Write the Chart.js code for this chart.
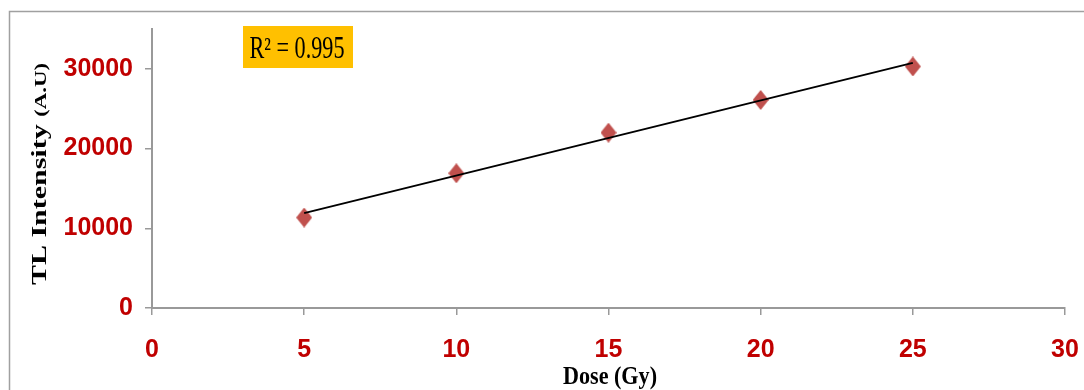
<!DOCTYPE html>
<html>
<head>
<meta charset="utf-8">
<script src="https://cdn.jsdelivr.net/npm/chart.js@4/dist/chart.umd.min.js"></script>
<style>
  body { margin: 0; background: #fff; overflow: hidden; }
  canvas { display: block; }
</style>
</head>
<body>
<canvas id="tlChart" width="1084" height="390"></canvas>
<script>
// Data
const doses = [5, 10, 15, 20, 25];
const intensities = [11350, 16900, 22000, 26100, 30300];
// linear trendline endpoints (as drawn)
const trendDoses = [5, 25];
const trendValues = [11900, 30750];
const xTicks = [0, 5, 10, 15, 20, 25, 30];
const yTicks = [0, 10000, 20000, 30000];
const rSquaredText = 'R\u00B2 = 0.995';

// tall diamond marker
const marker = document.createElement('canvas');
marker.width = 16;
marker.height = 20;
const mctx = marker.getContext('2d');
mctx.fillStyle = '#C0504D';
mctx.beginPath();
mctx.moveTo(8, 0);
mctx.lineTo(16, 10);
mctx.lineTo(8, 20);
mctx.lineTo(0, 10);
mctx.closePath();
mctx.fill();

function fitText(ctx, text, x, y, targetWidth, align) {
	const w = ctx.measureText(text).width;
	const sx = targetWidth / w;
	ctx.save();
	ctx.translate(x, y);
	ctx.scale(sx, 1);
	ctx.textAlign = align || 'center';
	ctx.fillText(text, 0, 0);
	ctx.restore();
}

const decorations = {
	id: 'decorations',
	beforeDraw(chart) {
		const ctx = chart.ctx;
		ctx.save();
		ctx.strokeStyle = '#A0A0A0';
		ctx.lineWidth = 1.5;
		ctx.strokeRect(9.5, 11.5, 1300, 600);
		ctx.restore();
	},
	afterDraw(chart) {
		const ctx = chart.ctx;
		ctx.save();

		// R² box
		ctx.fillStyle = '#FFC000';
		ctx.fillRect(243, 26, 110, 42);
		ctx.fillStyle = '#000';
		ctx.font = '31px "Liberation Serif", "Times New Roman", serif';
		ctx.textBaseline = 'alphabetic';
		fitText(ctx, rSquaredText, 297, 58, 95);

		// x title
		ctx.font = 'bold 26px "Liberation Serif", "Times New Roman", serif';
		fitText(ctx, 'Dose (Gy)', 610, 384, 94);

		// y title, two sizes
		ctx.translate(46, 285);
		ctx.rotate(-Math.PI / 2);
		const big = 'bold 21px "Liberation Serif", "Times New Roman", serif';
		const small = 'bold 16px "Liberation Serif", "Times New Roman", serif';
		ctx.font = big;
		const w1 = ctx.measureText('TL Intensity ').width;
		ctx.font = small;
		const w2 = ctx.measureText('(A.U)').width;
		const sx = 222 / (w1 + w2);
		ctx.scale(sx, 1);
		ctx.textAlign = 'left';
		ctx.font = big;
		ctx.fillText('TL Intensity ', 0, 0);
		ctx.font = small;
		ctx.fillText('(A.U)', w1, 0);

		ctx.restore();
	},
};

const tickFont = { family: '"Liberation Sans", Arial, sans-serif', size: 25, weight: 'bold' };

const tlChart = new Chart(document.getElementById('tlChart').getContext('2d'), {
	type: 'scatter',
	data: {
		datasets: [
			{
				type: 'line',
				label: 'Linear fit',
				data: trendDoses.map((d, i) => ({ x: d, y: trendValues[i] })),
				borderColor: '#000',
				borderWidth: 2,
				pointRadius: 0,
				fill: false,
				order: 0,
			},
			{
				label: 'TL Intensity',
				data: doses.map((d, i) => ({ x: d, y: intensities[i] })),
				pointStyle: marker,
				backgroundColor: '#C0504D',
				order: 1,
			},
		],
	},
	options: {
		responsive: false,
		animation: false,
		layout: { padding: { top: 29, right: 19, left: 0, bottom: 0 } },
		plugins: {
			legend: { display: false },
			tooltip: { enabled: false },
		},
		scales: {
			x: {
				type: 'linear',
				min: xTicks[0],
				max: xTicks[xTicks.length - 1],
				afterBuildTicks: (scale) => {
					scale.ticks = xTicks.map((v) => ({ value: v }));
				},
				afterFit: (scale) => {
					scale.height = 82;
					scale.paddingLeft = 0;
					scale.paddingRight = 0;
				},
				ticks: {
					color: '#C00000',
					font: tickFont,
					padding: 20,
					maxRotation: 0,
					callback: (v) => String(v),
				},
				grid: { drawOnChartArea: false, tickLength: 7, color: '#999', lineWidth: 1.5 },
				border: { color: '#999', width: 2 },
			},
			y: {
				min: 0,
				max: 35000,
				afterBuildTicks: (scale) => {
					scale.ticks = yTicks.map((v) => ({ value: v }));
				},
				afterFit: (scale) => {
					scale.width = 152;
					scale.paddingTop = 0;
					scale.paddingBottom = 0;
				},
				ticks: {
					color: '#C00000',
					font: tickFont,
					padding: 12,
					callback: (v) => String(v),
				},
				grid: { drawOnChartArea: false, tickLength: 7, color: '#999', lineWidth: 1.5 },
				border: { color: '#999', width: 2 },
			},
		},
	},
	plugins: [decorations],
});
</script>
</body>
</html>
